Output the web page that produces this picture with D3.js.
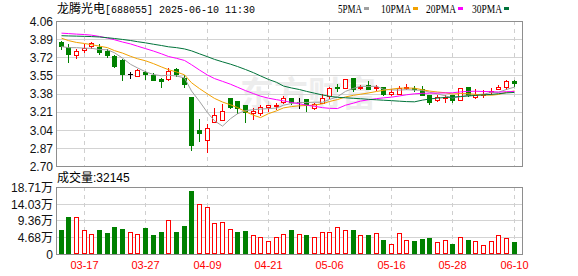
<!DOCTYPE html>
<html>
<head>
<meta charset="utf-8">
<script src="https://cdn.jsdelivr.net/npm/d3@7/dist/d3.min.js"></script>
<style>
body{margin:0;background:#fff;}
svg{display:block;}
</style>
</head>
<body>
<svg id="chart" width="578" height="276"></svg>
<script>
// trading days shown (2025)
var dates = ["03-12","03-13","03-14","03-17","03-18","03-19","03-20","03-21","03-24","03-25",
  "03-26","03-27","03-28","03-31","04-01","04-02","04-03","04-07","04-08","04-09",
  "04-10","04-11","04-14","04-15","04-16","04-17","04-18","04-21","04-22","04-23",
  "04-24","04-25","04-28","04-29","04-30","05-06","05-07","05-08","05-09","05-12",
  "05-13","05-14","05-15","05-16","05-19","05-20","05-21","05-22","05-23","05-26",
  "05-27","05-28","05-29","05-30","06-03","06-04","06-05","06-06","06-09","06-10"];

var openP  = [3.86,3.82,3.74,3.79,3.83,3.82,3.78,3.73,3.69,3.56, 3.54,3.58,3.55,3.52,3.52,3.61,3.53,3.35,3.04,2.94,
              3.11,3.13,3.34,3.31,3.27,3.20,3.20,3.25,3.26,3.30, 3.34,3.30,3.33,3.24,3.29,3.36,3.44,3.43,3.53,3.43,
              3.46,3.43,3.44,3.38,3.38,3.43,3.43,3.42,3.37,3.32, 3.34,3.37,3.32,3.44,3.35,3.37,3.39,3.42,3.44,3.50];
var highP  = [3.87,3.84,3.80,3.84,3.86,3.84,3.80,3.74,3.70,3.58, 3.61,3.59,3.57,3.53,3.62,3.62,3.55,3.35,3.14,3.09,
              3.24,3.28,3.34,3.31,3.27,3.24,3.27,3.27,3.29,3.36, 3.34,3.34,3.33,3.29,3.38,3.44,3.47,3.52,3.53,3.46,
              3.50,3.46,3.44,3.42,3.45,3.47,3.45,3.45,3.37,3.37, 3.37,3.37,3.43,3.44,3.42,3.41,3.43,3.46,3.51,3.51];
var lowP   = [3.80,3.68,3.71,3.77,3.81,3.75,3.72,3.63,3.51,3.53, 3.54,3.52,3.51,3.44,3.51,3.54,3.44,2.85,2.93,2.83,
              3.11,3.13,3.24,3.20,3.11,3.14,3.18,3.22,3.23,3.29, 3.28,3.24,3.22,3.23,3.29,3.34,3.40,3.43,3.40,3.42,
              3.42,3.41,3.37,3.37,3.38,3.42,3.40,3.37,3.28,3.31, 3.30,3.30,3.32,3.36,3.34,3.35,3.38,3.42,3.42,3.45];
var closeP = [3.83,3.75,3.78,3.81,3.85,3.77,3.74,3.64,3.56,3.56, 3.60,3.56,3.51,3.50,3.59,3.56,3.47,2.90,3.01,3.06,
              3.18,3.22,3.25,3.24,3.21,3.22,3.25,3.27,3.27,3.34, 3.30,3.30,3.27,3.28,3.34,3.43,3.43,3.52,3.42,3.44,
              3.42,3.44,3.38,3.39,3.43,3.44,3.42,3.37,3.30,3.35, 3.35,3.32,3.43,3.37,3.37,3.38,3.40,3.44,3.50,3.48];

// volume in lots (手)
var volume = [67200,102400,103000,66400,55300,67200,59000,75600,70000,60800, 55300,72800,53400,61700,94000,61700,78300,175200,138400,130000,
              85800,88600,69200,61700,63600,52600,47000,36000,47000,55300, 67200,55300,53400,47000,60800,60800,74700,66400,66400,52600,
              52600,58100,39600,27700,58100,38700,36800,42300,45100,33200, 38700,28500,47000,39600,36000,24900,36000,52600,45100,32145];

// moving averages as drawn on the chart
var ma5  = [3.820,3.810,3.810,3.805,3.804,3.792,3.790,3.762,3.712,3.654, 3.620,3.584,3.558,3.546,3.552,3.544,3.526,3.404,3.306,3.200,
            3.124,3.074,3.144,3.190,3.220,3.228,3.234,3.238,3.244,3.270, 3.286,3.296,3.296,3.298,3.298,3.324,3.350,3.400,3.428,3.448,
            3.446,3.448,3.420,3.414,3.412,3.416,3.412,3.410,3.392,3.376, 3.358,3.338,3.350,3.364,3.368,3.374,3.390,3.392,3.418,3.440];
var ma10 = [3.899,3.876,3.859,3.849,3.838,3.824,3.810,3.782,3.759,3.729, 3.706,3.687,3.660,3.629,3.603,3.582,3.555,3.481,3.426,3.376,
            3.334,3.300,3.274,3.248,3.210,3.176,3.154,3.191,3.217,3.245, 3.257,3.265,3.267,3.271,3.284,3.305,3.323,3.348,3.363,3.373,
            3.385,3.399,3.410,3.421,3.430,3.431,3.430,3.415,3.403,3.394, 3.387,3.375,3.380,3.378,3.372,3.366,3.364,3.371,3.391,3.404];
var ma20 = [3.946,3.942,3.937,3.933,3.927,3.915,3.900,3.884,3.863,3.845, 3.824,3.801,3.778,3.752,3.727,3.710,3.690,3.650,3.600,3.553,
            3.520,3.494,3.467,3.439,3.407,3.379,3.355,3.336,3.322,3.311, 3.296,3.283,3.271,3.260,3.247,3.241,3.239,3.270,3.290,3.309,
            3.321,3.332,3.339,3.346,3.357,3.368,3.377,3.382,3.383,3.384, 3.386,3.387,3.395,3.400,3.401,3.399,3.397,3.393,3.397,3.399];
var ma30 = [3.922,3.920,3.918,3.916,3.914,3.910,3.903,3.896,3.887,3.877, 3.866,3.855,3.842,3.830,3.818,3.810,3.798,3.780,3.752,3.725,
            3.700,3.677,3.655,3.633,3.605,3.575,3.545,3.512,3.485,3.450, 3.432,3.417,3.400,3.383,3.366,3.354,3.344,3.340,3.335,3.331,
            3.325,3.321,3.317,3.313,3.308,3.304,3.302,3.318,3.328,3.337, 3.343,3.346,3.352,3.357,3.362,3.367,3.372,3.378,3.386,3.390];

var priceTicks = [4.06,3.89,3.72,3.55,3.38,3.21,3.04,2.87,2.70];
var volTicks = [0,46800,93600,140300,187100];
var volTickLabels = ["0","4.68万","9.36万","14.03万","18.71万"];
var dateTicks = ["03-17","03-27","04-09","04-21","05-06","05-16","05-28","06-10"];
var maNames = ["5PMA","10PMA","20PMA","30PMA"];
var maColors = ["#a0a0a0","#f2a100","#ff00ff","#00733a"];

var RED = "#ff0000", GREEN = "#008000", BLACK = "#000000";
var left = 56, right = 522;
var svg = d3.select("#chart");

var x = d3.scaleBand().domain(d3.range(dates.length)).range([56.86, 56.86 + 7.68 * dates.length]);
var cx = function(i){ return Math.round(x(i) + x.bandwidth() / 2); };
var y = d3.scaleLinear().domain([2.70, 4.06]).range([166, 21]);
var yv = d3.scaleLinear().domain([0, 187100]).range([254, 187]);

// ---- title + legend
var title = svg.append("text").attr("x", 57).attr("y", 13).attr("fill", "#000").style("font-size", "12px");
title.append("tspan").style("font-family", "'Noto Sans CJK SC'").text("龙腾光电");
title.append("tspan").style("font-family", "'Liberation Mono'").style("font-size", "10px").attr("textLength", 150)
  .text("[688055] 2025-06-10 11:30");

var legX = [338, 381, 426, 472];
maNames.forEach(function(n, k){
  svg.append("text").attr("x", legX[k]).attr("y", 12.5)
    .style("font-family", "'Liberation Serif'").style("font-size", "12.5px").attr("fill", "#000")
    .attr("textLength", n.length * 6).attr("lengthAdjust", "spacingAndGlyphs").text(n);
  svg.append("rect").attr("x", legX[k] + n.length * 6 + 2).attr("y", 7).attr("width", 5).attr("height", 3)
    .attr("fill", maColors[k]);
});

// faint watermark
svg.append("text").attr("x", 240).attr("y", 106).text("东方财富")
  .style("font-family", "'Noto Sans CJK SC'").style("font-weight", "bold").style("font-size", "34px")
  .attr("fill", "#ededed");

// ---- grids
var grid = svg.append("g");
grid.selectAll(".hp").data(priceTicks.slice(1, -1)).enter().append("line")
  .attr("x1", left).attr("x2", right)
  .attr("y1", function(d){ return Math.round(y(d)) + 0.5; }).attr("y2", function(d){ return Math.round(y(d)) + 0.5; })
  .attr("stroke", "#d3d3d3");
grid.selectAll(".hv").data(volTicks.slice(1, -1)).enter().append("line")
  .attr("x1", left).attr("x2", right)
  .attr("y1", function(d){ return Math.round(yv(d)) + 0.5; }).attr("y2", function(d){ return Math.round(yv(d)) + 0.5; })
  .attr("stroke", "#d3d3d3");
dateTicks.forEach(function(dt){
  var xx = cx(dates.indexOf(dt)) + 0.5;
  [[21, 166], [187, 254]].forEach(function(r){
    grid.append("line").attr("x1", xx).attr("x2", xx).attr("y1", r[0]).attr("y2", r[1])
      .attr("stroke", "#cfcfcf").attr("stroke-dasharray", "4,4");
  });
});

// ---- frames
svg.append("rect").attr("x", left + 0.5).attr("y", 21.5).attr("width", right - left).attr("height", 145)
  .attr("fill", "none").attr("stroke", "#8e8e8e");
svg.append("rect").attr("x", left + 0.5).attr("y", 187.5).attr("width", right - left).attr("height", 67)
  .attr("fill", "none").attr("stroke", "#8e8e8e");

// ---- axis labels
svg.append("g").attr("transform", "translate(53,0)")
  .call(d3.axisLeft(y).tickValues(priceTicks).tickSize(0).tickPadding(0).tickFormat(d3.format(".2f")))
  .call(function(g){ g.select(".domain").remove(); })
  .selectAll("text").style("font-family", "'Liberation Sans'").style("font-size", "12px").attr("fill", "#111")
  .attr("dy", "0.36em");

svg.append("g").attr("transform", "translate(53,0)")
  .call(d3.axisLeft(yv).tickValues(volTicks).tickSize(0).tickPadding(0)
    .tickFormat(function(d, k){ return volTickLabels[k]; }))
  .call(function(g){ g.select(".domain").remove(); })
  .selectAll("text").style("font-family", "'Liberation Sans','Noto Sans CJK SC'").style("font-size", "12px")
  .attr("fill", "#111").attr("dy", "0.36em");

svg.append("g").attr("transform", "translate(0,269)")
  .selectAll("text").data(dateTicks).enter().append("text")
  .attr("x", function(d){ return cx(dates.indexOf(d)) + 0.5; })
  .attr("text-anchor", "middle").attr("fill", RED)
  .style("font-family", "'Liberation Sans'").style("font-size", "11px").text(function(d){ return d; });

var vt = svg.append("text").attr("x", 57).attr("y", 182).attr("fill", "#000").style("font-size", "12px");
vt.append("tspan").style("font-family", "'Noto Sans CJK SC'").text("成交量");
vt.append("tspan").style("font-family", "'Liberation Sans'").text(":" + volume[volume.length - 1]);

// ---- colour rules
function candleColor(i){
  if (closeP[i] > openP[i]) return RED;
  if (closeP[i] < openP[i]) return GREEN;
  var prev = i > 0 ? closeP[i - 1] : openP[i];
  return closeP[i] > prev ? RED : (closeP[i] < prev ? GREEN : BLACK);
}
function volUp(i){
  if (i === 0) return closeP[0] >= openP[0];
  return closeP[i] >= closeP[i - 1];
}

// ---- candles
var py = function(v){ return Math.round(y(v)); };
var candles = svg.append("g");
d3.range(dates.length).forEach(function(i){
  var c = cx(i), col = candleColor(i);
  var top = py(Math.max(openP[i], closeP[i])), bot = py(Math.min(openP[i], closeP[i]));
  candles.append("line").attr("x1", c + 0.5).attr("x2", c + 0.5)
    .attr("y1", py(highP[i])).attr("y2", py(lowP[i]) + 1).attr("stroke", col);
  if (bot - top < 1) {
    candles.append("line").attr("x1", c - 2).attr("x2", c + 3).attr("y1", top + 0.5).attr("y2", top + 0.5)
      .attr("stroke", col);
  } else if (col === RED) {
    candles.append("rect").attr("x", c - 1.5).attr("y", top + 0.5).attr("width", 4).attr("height", bot - top)
      .attr("fill", "#fff").attr("stroke", RED);
  } else {
    candles.append("rect").attr("x", c - 2).attr("y", top).attr("width", 5).attr("height", bot - top + 1)
      .attr("fill", col);
  }
});

// ---- moving averages
[ma5, ma10, ma20, ma30].forEach(function(arr, k){
  svg.append("path").datum(arr)
    .attr("d", d3.line().x(function(d, i){ return cx(i) + 0.5; }).y(function(d){ return y(d); }))
    .attr("fill", "none").attr("stroke", maColors[k]).attr("stroke-width", 1);
});

// ---- volume bars
var vbars = svg.append("g");
d3.range(dates.length).forEach(function(i){
  var c = cx(i), t = Math.round(yv(volume[i])), b = 254;
  if (volUp(i)) {
    vbars.append("rect").attr("x", c - 1.5).attr("y", t + 0.5).attr("width", 4).attr("height", b - t - 1)
      .attr("fill", "#fff").attr("stroke", RED);
  } else {
    vbars.append("rect").attr("x", c - 2).attr("y", t).attr("width", 5).attr("height", b - t)
      .attr("fill", GREEN);
  }
});
</script>
</body>
</html>
